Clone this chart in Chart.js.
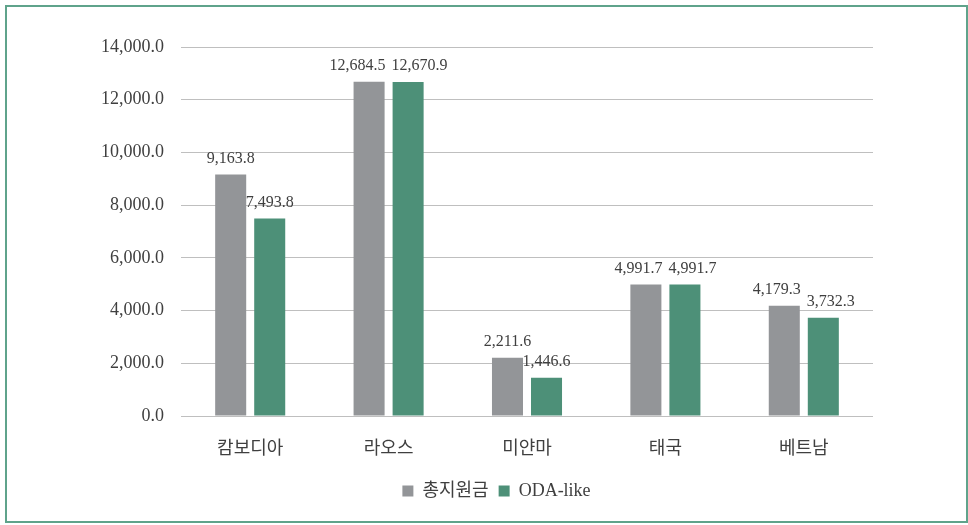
<!DOCTYPE html>
<html><head><meta charset="utf-8">
<script src="https://cdn.jsdelivr.net/npm/chart.js@4"></script>
<style>
html,body{margin:0;padding:0;background:#fff;}
#wrap{position:absolute;left:0;top:0;width:968px;height:525px;}
#frame{position:absolute;left:5px;top:5px;width:959px;height:514px;border:2px solid #5fa38b;pointer-events:none;}
</style></head><body>
<div id="wrap"><canvas id="c" width="968" height="525"></canvas><div id="frame"></div></div>
<script>
const categories = ['캄보디아', '라오스', '미얀마', '태국', '베트남'];
const seriesNames = ['총지원금', 'ODA-like'];
const totalSupport = [9163.8, 12684.5, 2211.6, 4991.7, 4179.3];
const odaLike = [7493.8, 12670.9, 1446.6, 4991.7, 3732.3];
const yTicks = [0, 2000, 4000, 6000, 8000, 10000, 12000, 14000];

const FONT = '"Liberation Serif", "Noto Sans CJK KR", serif';
const TEXT = '#3f3f3f';
const fmt = v => v.toLocaleString('en-US', {minimumFractionDigits: 1, maximumFractionDigits: 1});

const labelPlugin = {
  id: 'barLabels',
  afterLayout(chart) {
    // center the legend under the same point as the reference
    if (chart.legend) { chart.legend.left += 60; chart.legend.right += 60; }
  },
  afterDatasetsDraw(chart) {
    const ctx = chart.ctx;
    ctx.save();
    ctx.font = '16px ' + FONT;
    ctx.fillStyle = TEXT;
    ctx.textAlign = 'center';
    ctx.textBaseline = 'bottom';
    const m0 = chart.getDatasetMeta(0), m1 = chart.getDatasetMeta(1);
    const d0 = chart.data.datasets[0].data, d1 = chart.data.datasets[1].data;
    const th = 16, gap = 6;
    for (let i = 0; i < d0.length; i++) {
      const b0 = m0.data[i], b1 = m1.data[i];
      const t0 = fmt(d0[i]), t1 = fmt(d1[i]);
      const w0 = ctx.measureText(t0).width, w1 = ctx.measureText(t1).width;
      let x0 = b0.x, x1 = b1.x;
      const y0 = b0.y - 8, y1 = b1.y - 8;
      if (Math.abs(y0 - y1) < th) {
        const ov = (w0 / 2 + w1 / 2 + gap) - (x1 - x0);
        if (ov > 0) { x0 -= ov / 2; x1 += ov / 2; }
      }
      ctx.fillText(t0, x0, y0);
      ctx.fillText(t1, x1, y1);
    }
    ctx.restore();
  }
};

new Chart(document.getElementById('c'), {
  type: 'bar',
  data: {
    labels: categories,
    datasets: [
      { label: seriesNames[0], data: totalSupport, backgroundColor: '#939598', categoryPercentage: 0.564, barPercentage: 0.795 },
      { label: seriesNames[1], data: odaLike, backgroundColor: '#4d9078', categoryPercentage: 0.564, barPercentage: 0.795 }
    ]
  },
  options: {
    responsive: false,
    animation: false,
    devicePixelRatio: 1,
    layout: { padding: { left: 0, right: 95, top: 47, bottom: 15 } },
    scales: {
      x: {
        grid: { display: false },
        border: { display: false },
        ticks: { color: TEXT, font: { family: FONT, size: 18 }, padding: 14 },
        afterFit: s => { s.height = 56; }
      },
      y: {
        min: 0, max: 14000,
        afterBuildTicks: s => { s.ticks = yTicks.map(v => ({ value: v })); },
        grid: { color: '#bfbfbf', lineWidth: 1, drawTicks: false },
        border: { display: false },
        ticks: { color: TEXT, font: { family: FONT, size: 18 }, padding: 17, callback: v => fmt(v) },
        afterFit: s => { s.width = 181; }
      }
    },
    plugins: {
      legend: {
        position: 'bottom',
        labels: { color: TEXT, font: { family: FONT, size: 18 }, boxWidth: 11, boxHeight: 11, padding: 10 }
      },
      tooltip: { enabled: false }
    }
  },
  plugins: [labelPlugin]
});
</script>
</body></html>
